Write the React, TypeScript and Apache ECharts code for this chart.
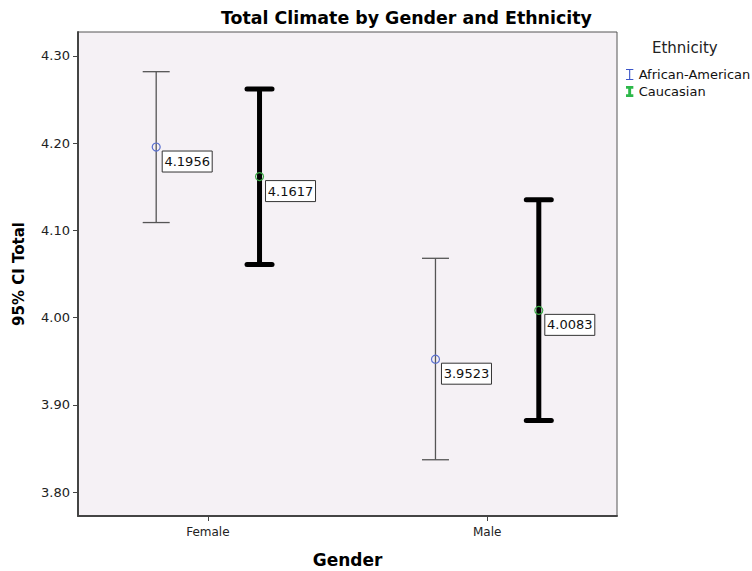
import React, { useEffect, useRef } from "react";
import * as echarts from "echarts";

const genders = ["Female", "Male"];
const ethnicities = ["African-American", "Caucasian"];
const aaMean = [4.1956, 3.9523];
const aaLower = [4.109, 3.837];
const aaUpper = [4.282, 4.068];
const caMean = [4.1617, 4.0083];
const caLower = [4.061, 3.882];
const caUpper = [4.262, 4.135];
const yTicks = [3.8, 3.9, 4.0, 4.1, 4.2, 4.3];

const FONT = "DejaVu Sans";

function makeRender(offset: number, lineColor: string, lineWidth: number, capHalf: number, markColor: string) {
  return (params: any, api: any) => {
    const xv = api.value(0) + offset;
    const lo = api.coord([xv, api.value(1)]);
    const hi = api.coord([xv, api.value(2)]);
    const m = api.coord([xv, api.value(3)]);
    const label = api.value(3).toFixed(4);
    const lineStyle = { stroke: lineColor, lineWidth, lineCap: lineWidth > 2 ? "round" : "butt" };
    return {
      type: "group",
      children: [
        { type: "line", shape: { x1: hi[0], y1: hi[1], x2: lo[0], y2: lo[1] }, style: { ...lineStyle, lineCap: "butt" } },
        { type: "line", shape: { x1: hi[0] - capHalf, y1: hi[1], x2: hi[0] + capHalf, y2: hi[1] }, style: lineStyle },
        { type: "line", shape: { x1: lo[0] - capHalf, y1: lo[1], x2: lo[0] + capHalf, y2: lo[1] }, style: lineStyle },
        { type: "circle", shape: { cx: m[0], cy: m[1], r: 4 }, style: { fill: "none", stroke: markColor, lineWidth: 1.2 } },
        { type: "rect", shape: { x: m[0] + 6, y: m[1] + 4, width: 50, height: 21 }, style: { fill: "#ffffff", stroke: "#333", lineWidth: 1 } },
        {
          type: "text",
          x: m[0] + 31,
          y: m[1] + 14.5,
          style: { text: label, fill: "#111", font: `13px '${FONT}'`, align: "center", verticalAlign: "middle" },
        },
      ],
    };
  };
}

export default function App() {
  const ref = useRef<HTMLDivElement>(null);
  useEffect(() => {
    document.body.style.margin = "0";
    const chart = echarts.init(ref.current!, null, { renderer: "svg" });
    const aaData = genders.map((g, i) => [i + 1, aaLower[i], aaUpper[i], aaMean[i]]);
    const caData = genders.map((g, i) => [i + 1, caLower[i], caUpper[i], caMean[i]]);
    chart.setOption({
      animation: false,
      backgroundColor: "#ffffff",
      textStyle: { fontFamily: FONT },
      title: {
        text: "Total Climate by Gender and Ethnicity",
        left: 216,
        top: 4,
        textStyle: { fontFamily: FONT, fontSize: 17.4, fontWeight: "bold", color: "#000" },
      },
      legend: {
        orient: "vertical",
        left: 621,
        top: 63,
        itemWidth: 8,
        itemHeight: 11,
        itemGap: 4,
        textStyle: { fontFamily: FONT, fontSize: 13, color: "#111" },
        data: [
          { name: ethnicities[0], icon: "path://M0,0H8V1.2H4.6V10.8H8V12H0V10.8H3.4V1.2H0Z", itemStyle: { color: "#3b55c8" } },
          { name: ethnicities[1], icon: "path://M0,0H8V3H5.6V9H8V12H0V9H2.4V3H0Z", itemStyle: { color: "#2db84a" } },
        ],
      },
      graphic: [
        {
          type: "text",
          left: 652,
          top: 40,
          style: { text: "Ethnicity", font: `15px '${FONT}'`, fill: "#222" },
        },
      ],
      grid: {
        left: 78,
        top: 32,
        width: 539,
        height: 484,
        outerBoundsMode: "none",
        containLabel: false,
        show: true,
        backgroundColor: "#f5f1f5",
        borderColor: "#555",
        borderWidth: 1,
      },
      xAxis: {
        type: "value",
        min: 0.535,
        max: 2.465,
        name: "Gender",
        nameLocation: "middle",
        nameGap: 35,
        nameTextStyle: { fontFamily: FONT, fontSize: 17, fontWeight: "bold", color: "#000" },
        splitLine: { show: false },
        axisLine: { show: true, onZero: false, lineStyle: { color: "#444", width: 2 } },
        axisTick: { show: true, customValues: [1, 2], length: 5, lineStyle: { color: "#444" } },
        axisLabel: {
          customValues: [1, 2],
          margin: 10,
          fontSize: 12,
          fontFamily: FONT,
          color: "#222",
          formatter: (v: number) => genders[Math.round(v) - 1] ?? "",
        },
      },
      yAxis: {
        type: "value",
        min: 3.7725,
        max: 4.3275,
        name: "95% CI Total",
        nameLocation: "middle",
        nameGap: 52,
        nameTextStyle: { fontFamily: FONT, fontSize: 15, fontWeight: "bold", color: "#000" },
        splitLine: { show: false },
        axisLine: { show: true, onZero: false, lineStyle: { color: "#444", width: 2 } },
        axisTick: { show: true, customValues: yTicks, length: 5, lineStyle: { color: "#444" } },
        axisLabel: {
          customValues: yTicks,
          margin: 8,
          fontSize: 13,
          fontFamily: FONT,
          color: "#222",
          formatter: (v: number) => v.toFixed(2),
        },
      },
      series: [
        {
          name: ethnicities[0],
          type: "custom",
          itemStyle: { color: "#3b55c8" },
          encode: { x: 0, y: [1, 2, 3] },
          renderItem: makeRender(-0.185, "#555", 1.3, 13.5, "#5a70d0"),
          data: aaData,
        },
        {
          name: ethnicities[1],
          type: "custom",
          itemStyle: { color: "#2db84a" },
          encode: { x: 0, y: [1, 2, 3] },
          renderItem: makeRender(0.185, "#000", 5, 12.5, "#3aa845"),
          data: caData,
        },
      ],
    });
    return () => chart.dispose();
  }, []);
  return <div ref={ref} style={{ width: 752, height: 571 }} />;
}
